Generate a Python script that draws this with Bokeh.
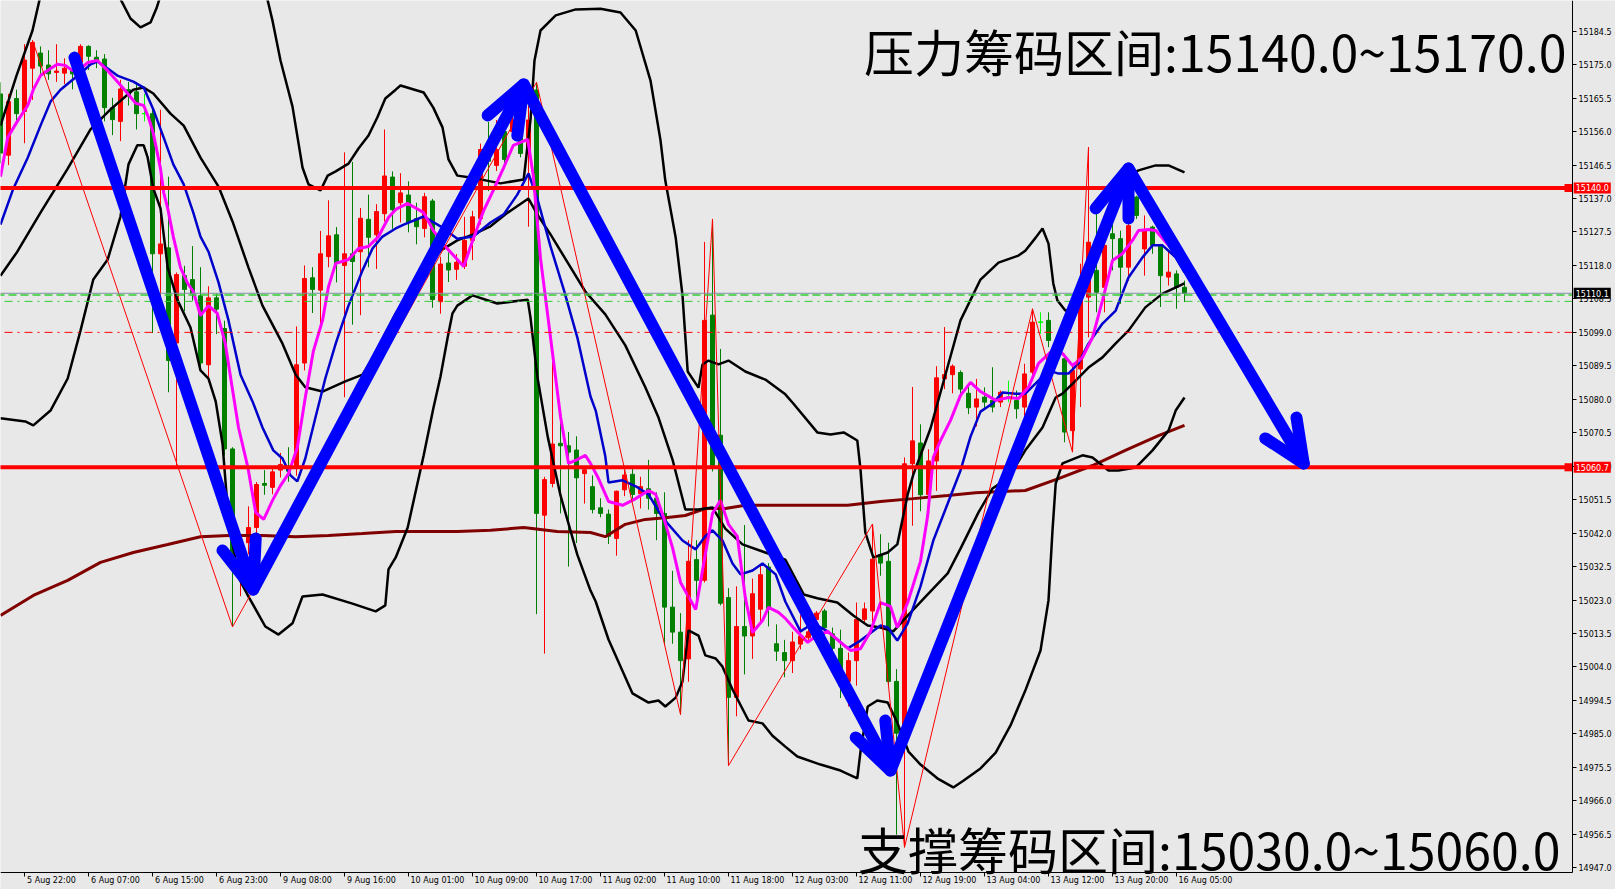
from bokeh.plotting import figure
from bokeh.models import Range1d, LinearAxis, FixedTicker, PrintfTickFormatter, Label
from bokeh.embed import file_html
from bokeh.resources import INLINE

# ---------------- data: hourly candles (bar index 0..148) ----------------
opens = [15166.7, 15149.3, 15165.4, 15161.7, 15174.0, 15178.3, 15174.9, 15172.8, 15172.6, 15173.5,
         15175.7, 15180.2, 15177.1, 15176.6, 15162.8, 15158.9, 15167.9, 15167.3, 15161.1, 15161.1,
         15121.3, 15123.0, 15096.0, 15115.1, 15114.0, 15109.4, 15089.8, 15108.8, 15100.1, 15065.9,
         15036.0, 15039.3, 15043.6, 15056.1, 15055.0, 15059.9, 15060.2, 15061.0, 15090.3, 15114.5,
         15111.0, 15120.5, 15126.7, 15118.0, 15121.3, 15121.9, 15131.1, 15126.7, 15132.7, 15143.1,
         15135.8, 15138.0, 15131.3, 15128.5, 15136.3, 15107.7, 15118.7, 15116.9, 15117.8, 15125.1,
         15131.3, 15148.7, 15146.4, 15156.0, 15156.0, 15156.0, 15149.8, 15167.8, 15047.1, 15056.1,
         15067.5, 15066.8, 15065.6, 15058.9, 15055.2, 15049.2, 15047.4, 15040.5, 15054.3, 15058.7,
         15053.2, 15054.6, 15051.9, 15047.6, 15021.0, 15013.9, 15006.3, 15034.5, 15028.6, 15103.9,
         15069.8, 15023.7, 14995.4, 15015.5, 15012.8, 15020.4, 15032.4, 15010.6, 15008.1, 15005.8,
         15010.5, 15012.3, 15017.5, 15019.9, 15013.4, 15009.3, 14999.9, 15005.8, 15017.5, 15019.9,
         15035.8, 15034.0, 14999.9, 14987.0, 15061.7, 15067.6, 15052.9, 15062.5, 15085.8, 15087.0,
         15087.6, 15081.7, 15077.8, 15080.6, 15079.7, 15079.2, 15080.6, 15079.7, 15077.8, 15087.7,
         15101.9, 15102.4, 15093.4, 15091.5, 15071.1, 15088.6, 15109.0, 15116.6, 15111.8, 15127.0,
         15125.6, 15117.5, 15137.4, 15122.7, 15128.9, 15123.7, 15114.7, 15115.6, 15111.8]
highs = [15170.0, 15166.7, 15167.9, 15180.8, 15181.9, 15180.2, 15179.1, 15180.8, 15176.8, 15175.0,
         15180.8, 15180.5, 15179.1, 15178.0, 15165.6, 15170.7, 15170.1, 15170.1, 15166.7, 15162.8,
         15162.2, 15143.2, 15116.0, 15117.9, 15123.5, 15117.5, 15112.1, 15110.0, 15102.3, 15066.4,
         15040.0, 15049.6, 15056.5, 15059.9, 15060.5, 15064.8, 15066.4, 15100.7, 15118.0, 15117.5,
         15127.8, 15136.5, 15128.9, 15150.1, 15147.4, 15134.3, 15138.1, 15135.4, 15156.6, 15144.7,
         15144.2, 15141.9, 15135.8, 15138.6, 15136.9, 15120.5, 15121.7, 15121.2, 15131.8, 15133.5,
         15152.6, 15158.8, 15159.3, 15159.3, 15161.0, 15157.0, 15163.3, 15170.0, 15058.0, 15093.1,
         15075.7, 15070.7, 15069.5, 15060.5, 15058.4, 15051.9, 15048.7, 15054.1, 15060.1, 15060.6,
         15058.0, 15062.8, 15053.6, 15053.6, 15031.3, 15019.3, 15040.0, 15040.0, 15124.7, 15131.2,
         15094.3, 15026.4, 15026.9, 15044.3, 15029.1, 15033.0, 15033.5, 15016.1, 15011.7, 15014.0,
         15018.7, 15019.9, 15019.9, 15020.5, 15015.2, 15014.6, 15008.1, 15022.3, 15022.3, 15044.6,
         15041.7, 15039.3, 15003.4, 15063.5, 15083.5, 15072.9, 15065.8, 15089.4, 15100.5, 15089.9,
         15088.2, 15083.5, 15085.8, 15083.4, 15089.1, 15082.5, 15085.3, 15082.5, 15090.1, 15105.7,
         15104.7, 15104.7, 15097.0, 15092.9, 15090.1, 15118.5, 15151.6, 15132.6, 15126.0, 15132.6,
         15127.9, 15129.8, 15137.8, 15132.2, 15129.3, 15124.1, 15122.2, 15116.6, 15113.7]
lows = [15147.0, 15146.5, 15157.8, 15152.7, 15165.0, 15172.4, 15170.7, 15170.1, 15169.5, 15168.0,
        15172.4, 15173.5, 15174.0, 15158.9, 15155.0, 15153.3, 15163.4, 15156.6, 15158.9, 15098.8,
        15099.4, 15082.0, 15061.2, 15105.0, 15108.0, 15088.0, 15084.9, 15098.5, 15064.0, 15015.4,
        15024.1, 15036.0, 15041.5, 15052.9, 15053.0, 15057.8, 15056.6, 15058.3, 15088.2, 15104.5,
        15100.1, 15117.5, 15113.2, 15080.6, 15101.2, 15103.9, 15117.5, 15117.0, 15130.5, 15128.4,
        15130.2, 15127.4, 15124.0, 15126.0, 15106.0, 15104.3, 15113.3, 15113.9, 15117.0, 15119.5,
        15129.6, 15139.1, 15144.8, 15147.0, 15154.0, 15148.7, 15129.0, 15019.0, 15007.8, 15055.0,
        15047.6, 15032.5, 15039.2, 15050.4, 15047.6, 15046.5, 15038.9, 15035.6, 15052.5, 15051.4,
        15049.0, 15048.7, 15040.0, 15010.1, 15010.6, 14990.5, 14999.8, 15022.6, 15028.0, 15059.5,
        15021.5, 14976.0, 14990.0, 15001.9, 15006.3, 15017.0, 15015.5, 15005.7, 15001.1, 15002.3,
        15009.0, 15011.7, 15014.0, 15011.7, 15007.5, 14995.2, 14992.8, 14998.7, 15016.4, 15014.0,
        15029.9, 14998.7, 14956.4, 14952.8, 15044.1, 15048.2, 15050.5, 15054.0, 15082.9, 15081.7,
        15081.7, 15075.8, 15072.3, 15077.3, 15076.3, 15077.8, 15079.2, 15074.5, 15074.9, 15086.3,
        15098.6, 15094.8, 15092.0, 15067.8, 15065.0, 15077.8, 15097.6, 15104.7, 15104.7, 15116.6,
        15107.1, 15113.7, 15131.2, 15115.1, 15121.3, 15106.2, 15112.3, 15105.7, 15107.6]
closes = [15149.9, 15164.5, 15161.1, 15176.3, 15181.3, 15174.6, 15172.4, 15173.2, 15174.0, 15172.4,
          15180.2, 15177.4, 15175.7, 15162.8, 15159.4, 15168.1, 15166.2, 15161.1, 15161.1, 15121.3,
          15124.1, 15091.0, 15115.4, 15111.2, 15110.0, 15090.3, 15108.8, 15105.6, 15065.9, 15036.6,
          15037.5, 15043.6, 15055.8, 15055.6, 15059.4, 15061.5, 15059.6, 15089.8, 15114.3, 15111.2,
          15121.3, 15126.4, 15118.6, 15121.3, 15119.1, 15131.4, 15126.0, 15133.3, 15143.4, 15133.8,
          15138.6, 15130.2, 15129.0, 15137.5, 15108.3, 15118.4, 15116.7, 15118.9, 15125.1, 15131.8,
          15150.9, 15147.6, 15150.9, 15148.1, 15159.3, 15149.8, 15159.3, 15047.6, 15057.2, 15067.3,
          15066.8, 15065.0, 15057.7, 15060.0, 15048.7, 15047.6, 15041.1, 15053.9, 15058.5, 15053.0,
          15055.2, 15051.9, 15047.6, 15021.0, 15013.9, 15005.8, 15034.0, 15028.6, 15102.4, 15061.2,
          15022.1, 14995.4, 15015.5, 15012.8, 15024.8, 15030.2, 15020.4, 15008.5, 15005.8, 15011.1,
          15012.8, 15014.0, 15019.3, 15015.2, 15009.3, 14998.7, 15005.8, 15017.5, 15020.5, 15034.6,
          15033.5, 14999.9, 14985.2, 15061.7, 15068.2, 15052.9, 15062.5, 15086.1, 15087.0, 15089.4,
          15082.9, 15077.6, 15080.1, 15079.2, 15077.8, 15082.0, 15080.6, 15077.3, 15087.2, 15101.9,
          15101.9, 15096.7, 15095.8, 15070.7, 15088.2, 15109.0, 15124.6, 15110.4, 15123.7, 15125.6,
          15117.5, 15129.3, 15132.2, 15127.9, 15123.7, 15115.1, 15116.1, 15111.8, 15110.1]

# time axis
time_tick_bars = [-5, 3, 11, 19, 27, 35, 43, 51, 59, 67, 75, 83, 91, 99, 107, 115, 123, 131, 139, 147]
time_tick_labels = ["5 Aug 14:00", "5 Aug 22:00", "6 Aug 07:00", "6 Aug 15:00", "6 Aug 23:00",
                    "9 Aug 08:00", "9 Aug 16:00", "10 Aug 01:00", "10 Aug 09:00", "10 Aug 17:00",
                    "11 Aug 02:00", "11 Aug 10:00", "11 Aug 18:00", "12 Aug 03:00", "12 Aug 11:00",
                    "12 Aug 19:00", "13 Aug 04:00", "13 Aug 12:00", "13 Aug 20:00", "16 Aug 05:00"]
# price axis
price_ticks = [15184.5, 15175.0, 15165.5, 15156.0, 15146.5, 15137.0, 15127.5, 15118.0, 15108.5,
               15099.0, 15089.5, 15080.0, 15070.5, 15061.0, 15051.5, 15042.0, 15032.5, 15023.0,
               15013.5, 15004.0, 14994.5, 14985.0, 14975.5, 14966.0, 14956.5, 14947.0]

# Bollinger bands
bb_upper_bar = [0, 2, 4, 5, 7, 14, 15.1, 16.25, 17.5, 18.75, 19.5, 20.6, 28.75, 33.1, 34, 35, 36.5, 37.75,
                38.5, 40, 40.9, 41.9, 43.5, 44.75, 46, 47.1, 48.1, 49.4, 50, 52.9, 54.1, 55.25, 56, 57.1,
                58.75, 62.5, 65.4, 66.25, 66.75, 67.5, 69.4, 71.9, 75, 77.5, 79.4, 81.25, 82.5, 83.1,
                84.4, 85.25, 85.9, 87.25, 87.75, 88.5, 89.75, 91, 93.1, 95.6, 98.1, 99.1, 102.1, 103.75,
                105.4, 107.1, 107.5, 108.1, 109.1, 110.9, 112.1, 113.4, 114.1, 116.25, 118.4, 120, 122.5,
                124.75, 127.25, 128.1, 129.4, 130.25, 131, 131.6, 132.1, 133.1, 134.4, 135.6, 136.9,
                138.1, 139.4, 140.6, 142.25, 144.4, 146, 148]
bb_upper = [15157.7, 15171.9, 15184.7, 15194.6, 15204.0, 15198.9, 15193.2, 15188.1, 15185.6, 15187.0,
            15191.0, 15198.9, 15204.6, 15196.1, 15187.5, 15176.2, 15163.1, 15145.8, 15141.0, 15139.3,
            15143.5, 15144.7, 15146.9, 15151.2, 15154.9, 15160.0, 15165.4, 15167.9, 15169.1, 15167.1,
            15162.8, 15157.2, 15148.1, 15143.5, 15143.0, 15141.3, 15142.4, 15159.4, 15176.2, 15184.7,
            15189.0, 15190.7, 15190.9, 15189.8, 15184.7, 15170.5, 15153.5, 15142.1, 15125.9, 15109.5,
            15087.9, 15083.3, 15089.9, 15091.0, 15089.9, 15091.0, 15087.9, 15085.6, 15081.4, 15078.8,
            15070.6, 15070.0, 15070.6, 15068.3, 15060.1, 15042.2, 15035.1, 15036.5, 15038.8, 15053.0,
            15058.6, 15071.7, 15089.3, 15102.4, 15114.0, 15118.8, 15120.8, 15122.2, 15125.9, 15128.5,
            15124.2, 15112.9, 15108.1, 15105.2, 15105.2, 15110.9, 15122.2, 15132.2, 15139.3, 15142.7,
            15145.0, 15146.4, 15146.4, 15144.4]
bb_mid_bar = [0, 2.1, 5, 8.4, 11.25, 13.75, 16.6, 17.9, 19.1, 21.25, 22.9, 25, 27.25, 29, 31, 32.75, 35.25,
              36.9, 38.1, 40.25, 43.1, 45.25, 46.5, 49.4, 52.5, 55, 57.1, 59.1, 61.25, 63.4, 66, 67.1,
              68.75, 70.9, 73.1, 75.6, 78.1, 80.6, 82.25, 84, 85.6, 87.25, 89, 90.6, 92.75, 95.25, 98.1,
              100.4, 102.1, 104.6, 106.6, 108.4, 110, 111.6, 113.4, 115.9, 118.4, 120, 122.25, 124, 126,
              128.1, 130.25, 131.9, 132.75, 134.4, 136, 137.75, 139.4, 141, 143.1, 145.25, 148]
bb_mid = [15115.1, 15121.9, 15133.0, 15145.5, 15156.6, 15162.3, 15167.9, 15168.5, 15166.8, 15161.1,
          15157.7, 15148.6, 15140.4, 15130.5, 15117.4, 15106.6, 15095.8, 15087.0, 15083.4, 15082.2,
          15085.1, 15087.0, 15091.6, 15104.4, 15115.1, 15122.2, 15125.1, 15126.8, 15129.1, 15133.0,
          15137.0, 15132.5, 15126.8, 15118.8, 15110.6, 15104.1, 15095.3, 15083.4, 15074.8, 15062.9,
          15048.7, 15048.7, 15049.3, 15043.3, 15038.8, 15036.8, 15034.5, 15024.6, 15023.5, 15022.3,
          15018.6, 15015.8, 15015.2, 15014.1, 15018.6, 15024.6, 15030.6, 15037.6, 15047.9, 15054.7,
          15057.8, 15065.5, 15072.0, 15080.5, 15081.6, 15085.3, 15089.0, 15091.9, 15095.9, 15099.5,
          15106.1, 15110.0, 15112.9]
bb_lower_bar = [0, 3.1, 4.1, 6.25, 8.4, 10, 11.6, 13.4, 15, 16, 17.1, 17.9, 18.4, 19.1, 20, 20.9, 22.1,
                23.75, 25, 26, 26.9, 27.75, 28.5, 29.75, 31, 33.1, 34.75, 36.5, 37.75, 40.25, 44, 46.9,
                48.1, 48.5, 49.4, 50.9, 52.9, 54.1, 55, 55.9, 56.5, 57.1, 59, 62.1, 65.9, 66.25, 67.1,
                68.4, 70, 72.1, 73.75, 74.4, 76, 79, 81, 82.25, 83.1, 84.4, 85.25, 86, 87.25, 88.1, 89.4,
                90.25, 91.5, 93.5, 95.25, 96.5, 98.1, 99.6, 102.5, 105, 107.1, 107.5, 108.4, 109.6, 110.9,
                112.1, 113.5, 115, 117.1, 119.1, 120.4, 122.5, 124.4, 126.25, 128.1, 130, 131, 131.5,
                131.9, 132.75, 135.25, 136.5, 138.5, 139.75, 141.9, 144, 146, 146.9, 148]
bb_lower = [15074.6, 15073.7, 15072.6, 15076.8, 15085.9, 15099.5, 15114.0, 15119.7, 15131.9, 15146.7,
            15152.1, 15152.1, 15148.6, 15139.9, 15134.2, 15117.4, 15108.3, 15100.4, 15088.2, 15085.9,
            15079.4, 15067.4, 15045.9, 15029.4, 15024.0, 15015.5, 15013.2, 15016.4, 15024.0, 15024.6,
            15022.0, 15019.8, 15021.5, 15031.7, 15035.1, 15043.6, 15064.1, 15077.4, 15086.5, 15097.6,
            15104.4, 15106.6, 15109.5, 15107.2, 15108.3, 15103.2, 15086.5, 15069.4, 15052.7, 15035.9,
            15025.7, 15022.6, 15011.8, 14996.5, 14993.9, 14994.5, 14992.8, 14995.3, 14999.9, 15014.4,
            15012.9, 15007.3, 15006.4, 15004.1, 14997.6, 14988.8, 14988.0, 14984.5, 14981.4, 14978.6,
            14976.3, 14974.6, 14972.4, 14980.0, 14992.8, 14994.5, 14993.9, 14988.2, 14980.0, 14976.3,
            14972.4, 14969.8, 14971.8, 14975.2, 14979.7, 14987.4, 14997.3, 15008.7, 15022.9, 15042.8,
            15056.1, 15061.8, 15064.1, 15063.5, 15059.8, 15059.8, 15060.6, 15065.5, 15071.1, 15076.8,
            15080.5]

# moving averages
ma_fast_bar = [0, 0.9, 2.1, 3.4, 4.1, 5, 6.25, 7.1, 8.1, 9, 10, 10.9, 12.1, 13.4, 14.6, 15.9, 16.9, 17.9,
               18.5, 19.1, 20, 20.4, 20.9, 21.6, 22.5, 23.4, 24.1, 25, 26, 27.1, 28.1, 29, 29.75, 30.9,
               31.9, 32.9, 34, 35, 36, 37.1, 38.1, 39.1, 40.25, 41, 41.9, 43.5, 44.75, 46, 47.25, 48.5,
               49.4, 50.9, 52.9, 54.1, 55.6, 57.9, 59.1, 60.4, 61.6, 62.9, 64.1, 65.9, 66.6, 67.5, 68.75,
               70, 71, 72.1, 73.1, 73.75, 74.75, 76, 77.75, 79.4, 81, 81.9, 82.9, 84, 85, 86.9, 87.9, 89,
               90, 91, 92.1, 93.1, 94, 95.25, 96, 97.25, 98.1, 99.1, 100.9, 102.1, 103.4, 105, 106.25,
               107.5, 108.75, 110, 111.25, 112.1, 113.4, 115, 115.9, 116.6, 117.5, 118.75, 120, 121.25,
               122.5, 124.4, 126, 127.25, 128.5, 129.75, 131.5, 132.75, 134, 135.25, 136.5, 137.75, 139,
               140.25, 141.5, 142.25, 143.5, 144.4, 146, 148]
ma_fast = [15143.2, 15154.3, 15158.9, 15163.4, 15167.9, 15171.9, 15173.9, 15175.1, 15174.8, 15173.3,
           15173.9, 15175.6, 15176.2, 15173.3, 15170.2, 15166.8, 15164.0, 15163.4, 15160.0, 15155.5,
           15145.5, 15138.7, 15134.2, 15126.2, 15117.4, 15112.9, 15110.6, 15103.8, 15106.6, 15104.4,
           15095.8, 15082.8, 15072.0, 15060.9, 15047.9, 15045.9, 15051.3, 15055.5, 15058.9, 15066.3,
           15080.5, 15093.6, 15102.4, 15112.0, 15118.6, 15119.7, 15122.8, 15123.4, 15126.2, 15131.6,
           15133.9, 15135.6, 15133.0, 15127.9, 15123.4, 15117.7, 15125.6, 15133.6, 15139.3, 15145.8,
           15152.1, 15153.8, 15143.5, 15120.0, 15097.6, 15075.1, 15061.8, 15062.9, 15064.1, 15061.8,
           15057.5, 15051.0, 15049.9, 15051.8, 15054.1, 15053.0, 15046.4, 15037.9, 15028.0, 15020.3,
           15033.4, 15047.6, 15051.3, 15044.5, 15041.1, 15023.7, 15013.8, 15017.2, 15020.9, 15019.5,
           15017.8, 15015.2, 15011.0, 15013.0, 15014.1, 15011.0, 15008.7, 15009.2, 15014.1, 15022.3,
           15021.2, 15015.2, 15022.3, 15034.0, 15047.0, 15063.5, 15068.3, 15074.0, 15081.1, 15084.8,
           15082.2, 15079.7, 15080.5, 15080.2, 15083.4, 15090.2, 15093.9, 15093.0, 15089.6, 15091.9,
           15097.5, 15108.1, 15119.4, 15121.4, 15125.1, 15127.9, 15128.2, 15127.9, 15123.7, 15120.0]
ma_mid_bar = [0, 1.6, 3.4, 5, 6.25, 7.5, 8.75, 10, 11.25, 12.1, 13.4, 14.6, 16.6, 17.9, 19.1, 20.4, 21.6,
              22.9, 24.1, 25, 26, 27.25, 28.5, 30, 31.5, 32.75, 34.1, 35.25, 36.25, 37.1, 38.1, 39.4,
              40.6, 41.9, 43.5, 45.25, 46.5, 47.75, 49.4, 50.4, 52.9, 55, 57.1, 59.1, 61.25, 62.9, 64.6,
              66, 67.1, 68.75, 70.4, 72.1, 73.75, 74.4, 75.6, 76, 77.75, 79.4, 81, 82.75, 85.25, 86.9,
              88.1, 89, 90.25, 91.5, 92.5, 94, 95.25, 96.9, 98.1, 100, 101.6, 103.4, 105.9, 107.5, 110,
              110.9, 112.1, 113.4, 115, 116.6, 118.4, 120, 121.25, 122.5, 124, 125.25, 126.9, 128.1,
              129.4, 131, 132.25, 133.5, 134.75, 136, 137.75, 139.4, 141, 142.75, 144, 145.25, 146.9, 148]
ma_mid = [15129.6, 15139.8, 15148.6, 15157.7, 15164.5, 15167.9, 15170.2, 15172.5, 15175.1, 15175.9,
          15173.9, 15171.9, 15170.2, 15168.5, 15162.3, 15154.3, 15146.7, 15141.0, 15133.0, 15126.2,
          15121.9, 15113.2, 15102.4, 15087.0, 15079.4, 15072.0, 15065.5, 15063.2, 15058.4, 15056.7,
          15063.2, 15075.1, 15085.9, 15095.8, 15106.6, 15116.6, 15122.8, 15126.2, 15128.5, 15129.6,
          15131.9, 15129.1, 15125.6, 15126.2, 15130.2, 15132.5, 15138.1, 15144.1, 15137.0, 15123.4,
          15111.2, 15097.6, 15080.8, 15076.8, 15063.8, 15056.4, 15057.0, 15055.3, 15053.0, 15046.4,
          15039.9, 15037.4, 15041.1, 15042.8, 15039.9, 15033.4, 15030.3, 15031.4, 15033.4, 15030.3,
          15022.6, 15014.1, 15016.4, 15014.1, 15009.3, 15011.5, 15015.8, 15015.2, 15011.5, 15016.4,
          15026.9, 15039.9, 15050.4, 15059.8, 15069.4, 15076.5, 15078.8, 15081.9, 15081.6, 15081.6,
          15084.5, 15088.2, 15087.3, 15087.3, 15090.2, 15095.8, 15101.5, 15105.2, 15114.6, 15120.3,
          15123.7, 15123.7, 15120.3, 15116.0]
ma_slow_bar = [0, 4.1, 8.4, 12.5, 16.6, 20.9, 25, 28.5, 32.75, 36.9, 41, 45.25, 49.4, 52.9, 57.1, 61.25,
               65.4, 69.6, 73.75, 75.6, 78.1, 80.6, 83.1, 85.6, 88.1, 90.6, 93.1, 95.6, 98.1, 101.6,
               105.9, 110, 114.1, 118.4, 121.9, 128.1, 132.25, 136.5, 140.6, 144.75, 148]
ma_slow = [15018.6, 15024.3, 15028.6, 15033.7, 15036.5, 15038.8, 15041.0, 15041.3, 15041.3, 15041.0,
           15041.3, 15041.9, 15042.5, 15042.5, 15042.5, 15042.8, 15043.6, 15042.5, 15042.2, 15041.0,
           15044.5, 15045.9, 15046.4, 15047.0, 15049.0, 15049.0, 15049.9, 15049.9, 15049.9, 15049.9,
           15049.9, 15051.0, 15051.8, 15052.7, 15053.5, 15054.1, 15057.5, 15061.2, 15065.5, 15069.7,
           15072.6]

# ZigZag swing points (bar index, H = high / L = low)
zz_bars = [4, 29, 67, 85, 89, 91, 109, 113, 129, 134, 136]
zz_kind = ["H", "L", "H", "L", "H", "L", "H", "L", "H", "L", "H"]

# horizontal levels
resistance_level = 15140.0
support_level = 15060.7
bid_level = 15110.1
green_dash_level = 15109.6
green_dashdot_level = 15107.8
red_dashdot_level = 15099.0

# hand-drawn blue arrows: path and arrow-head barbs (bar, price)
arrow_bar = [9.25, 31.6, 65.4, 111.25, 141.0, 162.9]
arrow_price = [15177.0, 15026.0, 15169.4, 14974.6, 15145.5, 15061.8]
barb_a_bar = [27.75, 60.9, 106.9, 136.9, 158.1]
barb_a_price = [15037.1, 15160.6, 14984.0, 15134.2, 15068.9]
barb_b_bar = [31.9, 64.6, 110.6, 141.0, 162.0]
barb_b_price = [15040.5, 15154.9, 14988.8, 15131.3, 15074.8]

title_top = "压力筹码区间:15140.0~15170.0"
title_bottom = "支撑筹码区间:15030.0~15060.0"

# ---------------- figure ----------------
BG = "#e8e8e8"
X_LO, X_HI = 0.0, 201.875          # visible bar span (8 px per bar)
Y_LO, Y_HI = 14940.83, 15193.22    # visible price span
AXIS_BAR = 196.5                   # where the price scale sits
AXIS_PRICE = 14945.66              # where the time scale sits

p = figure(width=1615, height=889, x_range=Range1d(X_LO, X_HI), y_range=Range1d(Y_LO, Y_HI),
           output_backend="svg", toolbar_location=None, x_axis_type=None, y_axis_type=None,
           min_border_left=0, min_border_top=0, min_border_right=0, min_border_bottom=0,
           background_fill_color=BG, border_fill_color=BG, outline_line_color=None)

# right price axis (fixed at the chart's right edge)
yax = LinearAxis(ticker=FixedTicker(ticks=price_ticks, minor_ticks=[]),
                 formatter=PrintfTickFormatter(format="%.1f"),
                 fixed_location=AXIS_BAR, bounds=(AXIS_PRICE, Y_HI + 5),
                 axis_line_color="black", axis_line_width=1, major_tick_line_color="black",
                 major_tick_out=4, major_tick_in=0, minor_tick_line_color=None,
                 major_label_standoff=2, major_label_text_font="DejaVu Sans",
                 major_label_text_font_size="8px", major_label_text_color="black")
p.add_layout(yax, "right")

# bottom time axis: tick marks, then labels starting right of each tick
xax_ticks = LinearAxis(ticker=FixedTicker(ticks=time_tick_bars, minor_ticks=[]),
                       major_label_overrides={t: "" for t in time_tick_bars},
                       fixed_location=AXIS_PRICE, bounds=(X_LO - 6, AXIS_BAR),
                       major_label_text_font_size="1px", major_label_standoff=0,
                       axis_line_color="black", major_tick_line_color="black",
                       major_tick_out=4, major_tick_in=0, minor_tick_line_color=None)
p.add_layout(xax_ticks, "below")
label_pos = [t + round(2.5 + 0.5 * 4.45 * len(s)) / 8.0 for t, s in zip(time_tick_bars, time_tick_labels)]
xax_labels = LinearAxis(ticker=FixedTicker(ticks=label_pos, minor_ticks=[]),
                        major_label_overrides={lp: s for lp, s in zip(label_pos, time_tick_labels)},
                        fixed_location=AXIS_PRICE,
                        axis_line_color=None, major_tick_line_color=None, major_tick_out=0,
                        major_tick_in=0, minor_tick_line_color=None, major_label_standoff=4,
                        major_label_text_font="DejaVu Sans", major_label_text_font_size="8px",
                        major_label_text_color="black")
p.add_layout(xax_labels, "below")

# candles
bars = list(range(len(opens)))
colors = []
for o, c in zip(opens, closes):
    colors.append("#ff0000" if c > o else ("#008000" if c < o else "#00ff00"))
p.segment(x0=bars, y0=lows, x1=bars, y1=highs, line_color=colors, line_width=1)
body_top = [max(o, c) for o, c in zip(opens, closes)]
body_bot = [min(o, c) for o, c in zip(opens, closes)]
p.vbar(x=bars, width=0.5, top=body_top, bottom=body_bot, fill_color=colors, line_color=colors, line_width=1)
doji = [i for i in bars if opens[i] == closes[i]]
p.segment(x0=[i - 0.3 for i in doji], y0=[opens[i] for i in doji], x1=[i + 0.3 for i in doji],
          y1=[opens[i] for i in doji], line_color="#00ff00", line_width=1)

# indicators
p.line(ma_slow_bar, ma_slow, line_color="#800000", line_width=3)
for xs, ys in ((bb_upper_bar, bb_upper), (bb_mid_bar, bb_mid), (bb_lower_bar, bb_lower)):
    p.line(xs, ys, line_color="black", line_width=2.5)
p.line(ma_mid_bar, ma_mid, line_color="#0000cd", line_width=2.5)
p.line(ma_fast_bar, ma_fast, line_color="#ff00ff", line_width=3)

# zigzag
zz_price = [highs[b] if k == "H" else lows[b] for b, k in zip(zz_bars, zz_kind)]
p.line(zz_bars, zz_price, line_color="red", line_width=1)


# horizontal levels (stop at the price scale)
def hline(level, **kw):
    p.segment(x0=[X_LO - 2], x1=[AXIS_BAR], y0=[level], y1=[level], **kw)


hline(bid_level, line_color="#8090a0", line_width=1)
hline(green_dash_level, line_color="#32cd32", line_width=1.5, line_dash="8 4")
hline(green_dashdot_level, line_color="#32cd32", line_width=1, line_dash="8 5 2 5")
hline(red_dashdot_level, line_color="red", line_width=1, line_dash="8 5 2 5")
for lvl in (resistance_level, support_level):
    hline(lvl, line_color="red", line_width=4)
p.rect(x=[AXIS_BAR - 0.5, AXIS_BAR - 0.5], y=[resistance_level, support_level], width=1.0, height=2.3,
       fill_color="red", line_color=None)

# blue arrows
p.line(arrow_bar, arrow_price, line_color="#0000ff", line_width=12, line_join="round", line_cap="round")
tips_bar = arrow_bar[1:]
tips_price = arrow_price[1:]
p.multi_line(xs=[[a, t, b] for a, t, b in zip(barb_a_bar, tips_bar, barb_b_bar)],
             ys=[[a, t, b] for a, t, b in zip(barb_a_price, tips_price, barb_b_price)],
             line_color="#0000ff", line_width=12, line_join="round", line_cap="round")

# big captions
p.add_layout(Label(x=195.75, y=15179.3, text=title_top, text_align="right", text_baseline="middle",
                   text_font="Noto Sans CJK SC", text_font_size="50px", text_color="black"))
p.add_layout(Label(x=195.0, y=14952.7, text=title_bottom, text_align="right", text_baseline="middle",
                   text_font="Noto Sans CJK SC", text_font_size="50px", text_color="black"))

# price tags on the scale
for lvl, txt, bg in ((resistance_level, "15140.0", "red"), (support_level, "15060.7", "red"),
                     (bid_level, "15110.1", "black")):
    p.add_layout(Label(x=AXIS_BAR + 0.15, y=lvl, text=txt, text_align="left", text_baseline="middle",
                       text_font="DejaVu Sans", text_font_size="8px", text_color="white",
                       background_fill_color=bg, padding=2))

open("out.html", "w").write(file_html(p, INLINE))
